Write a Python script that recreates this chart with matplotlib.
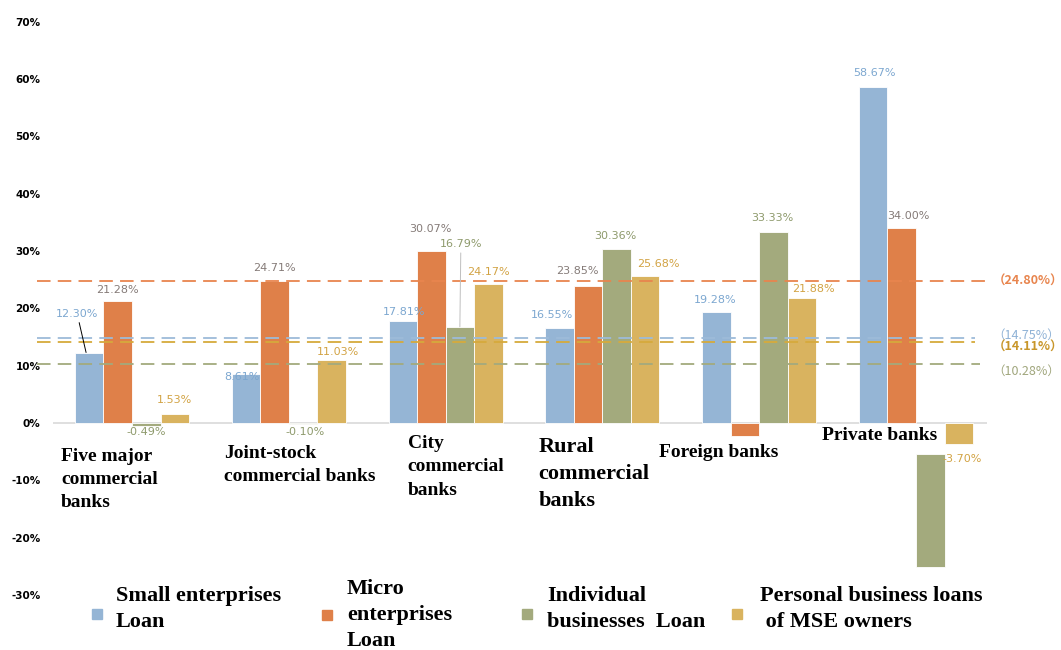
'''
Growth of MSE loans by bank type, with the average growth as dashed lines
'''
import matplotlib
matplotlib.use('Agg')
import matplotlib.pyplot as plt
from matplotlib.patches import Rectangle
import numpy as np

# data (percent)
banks = ['Five major\ncommercial\nbanks', 'Joint-stock\ncommercial banks', 'City\ncommercial\nbanks',
         'Rural\ncommercial\nbanks', 'Foreign banks', 'Private banks']
series = ['Small enterprises\nLoan', 'Micro\nenterprises\nLoan', 'Individual\nbusinesses  Loan',
          'Personal business loans\n of MSE owners']
small_loan = [12.30, 8.61, 17.81, 16.55, 19.28, 58.67]
micro_loan = [21.28, 24.71, 30.07, 23.85, -2.20, 34.00]
indiv_loan = [-0.49, -0.10, 16.79, 30.36, 33.33, -19.70]
owner_loan = [1.53, 11.03, 24.17, 25.68, 21.88, -3.70]
# the private banks individual bar hangs below the axis in the original
indiv_base = [0, 0, 0, 0, 0, -5.4]
# labels shown on the bars (None = no label in the original)
small_lbl = ['12.30%', '8.61%', '17.81%', '16.55%', '19.28%', '58.67%']
micro_lbl = ['21.28%', '24.71%', '30.07%', '23.85%', None, '34.00%']
indiv_lbl = ['-0.49%', '-0.10%', '16.79%', '30.36%', '33.33%', None]
owner_lbl = ['1.53%', '11.03%', '24.17%', '25.68%', '21.88%', '-3.70%']
# average growth lines
avg_values = [24.80, 14.75, 14.11, 10.28]
avg_labels = ['（24.80%）', '（14.75%）', '（14.11%）', '（10.28%）']

bar_colors = ['#95b5d5', '#df8049', '#a3aa7d', '#d9b35f']
lbl_colors = ['#7ca7d0', '#857b78', '#8e9a6c', '#d2a344']
avg_colors = ['#e8854e', '#9dbbd9', '#d6aa3c', '#a3aa7d']
avg_lbl_colors = ['#e8854e', '#8fb2d6', '#c8962a', '#a0a67c']
avg_bold = [True, False, True, False]

PX = 0.72  # pixels -> points at dpi 100

# label centre offsets from the bar end, in pixels
lbl_offsets = [
    [(-9, 39), (-4, -3), (1, 9), (-8, 13), (-1, 12), (1, 14)],
    [(0, 11), (0, 13), (-1, 22), (-11, 15), (0, 0), (7, 12)],
    [(0, -6), (2, -8), (1, 83), (-1, 13), (-1, 14), (0, 0)],
    [(0, 14), (6, 8), (0, 12), (13, 12), (11, 9), (3, -15)],
]
leaders = {(0, 0): 'black', (2, 2): '#bfbfbf'}


def main():
    fig = plt.figure(figsize=(10.61, 6.5), dpi=100)
    ax = fig.add_axes([0.04995, 0.0846, 0.8803, 0.882])

    x = np.arange(len(banks))
    w = 0.182
    values = [small_loan, micro_loan, indiv_loan, owner_loan]
    bases = [[0] * 6, [0] * 6, indiv_base, [0] * 6]
    labels = [small_lbl, micro_lbl, indiv_lbl, owner_lbl]

    for s in range(4):
        xs = x + (s - 1.5) * w
        ax.bar(xs, values[s], w, bottom=bases[s], color=bar_colors[s],
               edgecolor='white', linewidth=0.6, zorder=3)
        for i in range(6):
            if labels[s][i] is None:
                continue
            end = bases[s][i] + values[s][i]
            dx, dy = lbl_offsets[s][i]
            lead = leaders.get((s, i))
            arrow = None
            if lead:
                arrow = dict(arrowstyle='-', color=lead, lw=0.7, shrinkA=1, shrinkB=0)
            ax.annotate(labels[s][i], xy=(xs[i] + (-0.02 if s == 0 and i == 0 else 0), end),
                        xytext=(dx * PX, dy * PX), textcoords='offset points',
                        ha='center', va='center', fontsize=8, color=lbl_colors[s],
                        arrowprops=arrow, zorder=5)

    # dashed average lines
    x_ends = [1.003, 0.987, 0.987, 0.993]
    lbl_dy = [0, 3.5, -5, -7]
    for k in range(4):
        ax.axhline(avg_values[k], xmin=-0.017, xmax=x_ends[k], color=avg_colors[k],
                   lw=1.3, dashes=(7.5, 4), clip_on=False, zorder=4)
        ax.annotate(avg_labels[k], xy=(1.006, avg_values[k]),
                    xycoords=('axes fraction', 'data'),
                    xytext=(0, lbl_dy[k] * PX), textcoords='offset points',
                    ha='left', va='center', fontsize=9, color=avg_lbl_colors[k],
                    fontweight='bold' if avg_bold[k] else 'normal',
                    family=['Noto Sans CJK SC', 'DejaVu Sans'], annotation_clip=False)

    # zero line
    ax.axhline(0, color='#d9d9d9', lw=1.2, zorder=2)

    # category names
    name_dx = [-0.452, -0.414, -0.242, -0.408, -0.637, -0.599]
    name_y = [-4.3, -3.85, -2.1, -2.4, -3.7, -0.7]
    name_size = [14, 14, 14, 16, 14, 14]
    for i, name in enumerate(banks):
        ax.text(x[i] + name_dx[i], name_y[i], name, ha='left', va='top',
                fontsize=name_size[i], fontweight='bold', family='Liberation Serif',
                linespacing=1.48, zorder=6)

    ax.set_xlim(-0.504, 5.453)
    ax.set_ylim(-30, 70)
    ax.set_yticks(np.arange(-30, 71, 10))
    ax.set_yticklabels(['%d%%' % v for v in np.arange(-30, 71, 10)],
                       fontsize=7.5, fontweight='bold')
    ax.tick_params(axis='y', length=0, pad=9)
    ax.set_xticks([])
    for sp in ax.spines.values():
        sp.set_visible(False)

    # legend, laid out by hand like the original
    marker_x = [92, 322, 522, 732]
    marker_y = [609, 610, 609, 609]
    text_x = [116, 347, 547, 760]
    text_y = [609, 615, 609, 609]
    W, H = 1061.0, 650.0
    for k in range(4):
        fig.add_artist(Rectangle((marker_x[k] / W, 1 - (marker_y[k] + 10) / H), 10 / W, 10 / H,
                                 transform=fig.transFigure, color=bar_colors[k]))
        fig.text(text_x[k] / W, 1 - text_y[k] / H, series[k], ha='left', va='center',
                 fontsize=16, fontweight='bold', family='Liberation Serif', linespacing=1.42)

    fig.savefig('out.png', dpi=100)


if __name__ == '__main__':
    main()
